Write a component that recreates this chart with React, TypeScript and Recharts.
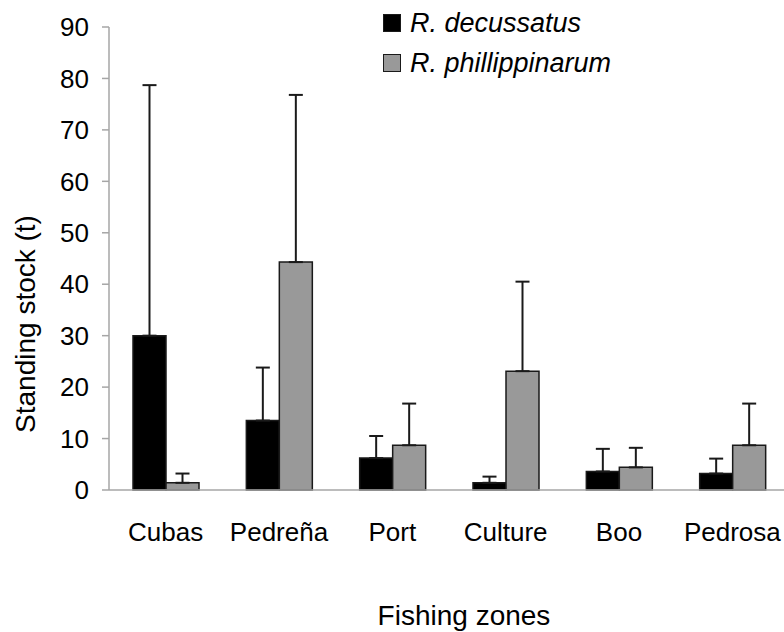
import React from "react";
import { BarChart, Bar, XAxis, YAxis, ErrorBar } from "recharts";

// Fishing zones and standing stock (t)
const zones = ["Cubas", "Pedreña", "Port", "Culture", "Boo", "Pedrosa"];
const decussatus = [30.0, 13.5, 6.2, 1.4, 3.6, 3.2];
const decussatusErr = [48.7, 10.3, 4.3, 1.2, 4.4, 2.9];
const phillippinarum = [1.4, 44.3, 8.7, 23.1, 4.4, 8.7];
const phillippinarumErr = [1.8, 32.5, 8.1, 17.4, 3.8, 8.1];
const yTicks = [0, 10, 20, 30, 40, 50, 60, 70, 80, 90];

const data = zones.map((zone, i) => ({
  zone,
  dec: decussatus[i],
  decErr: [0, decussatusErr[i]],
  phi: phillippinarum[i],
  phiErr: [0, phillippinarumErr[i]],
}));

const FONT = '"Liberation Sans", Arial, sans-serif';
const AXIS_GRAY = "#a6a6a6";
const DARK = "#1a1a1a";
const GRAY_FILL = "#999999";

const legendItems = [
  { label: "R. decussatus", fill: "#000000" },
  { label: "R. phillippinarum", fill: GRAY_FILL },
];

// legend drawn as an overlay so it doesn't eat into the plot area
const LegendBox = () => (
  <div
    style={{
      position: "absolute",
      left: 383,
      top: 3,
      fontFamily: FONT,
    }}
  >
    {legendItems.map((it) => (
      <div key={it.label} style={{ display: "flex", alignItems: "center", height: 40 }}>
        <span
          style={{
            display: "inline-block",
            width: 18,
            height: 18,
            background: it.fill,
            border: `1.5px solid ${DARK}`,
            marginRight: 9,
            boxSizing: "border-box",
          }}
        />
        <span style={{ fontSize: 27, fontStyle: "italic", color: "#000" }}>{it.label}</span>
      </div>
    ))}
  </div>
);

export default function App() {
  return (
    <div
      style={{
        position: "absolute",
        left: 0,
        top: 0,
        width: 784,
        height: 632,
        overflow: "hidden",
        background: "#fff",
      }}
    >
      <BarChart
        width={800}
        height={632}
        data={data}
        margin={{ top: 27, right: 11, bottom: 42, left: 0 }}
        barGap={0}
        style={{ fontFamily: FONT }}
      >
        <XAxis
          dataKey="zone"
          height={100}
          tickLine={false}
          tickSize={0}
          tickMargin={33}
          axisLine={{ stroke: AXIS_GRAY, strokeWidth: 1.5 }}
          tick={{ fill: "#000", fontSize: 26, fontFamily: FONT }}
          interval={0}
          label={{
            content: () => (
              <text x={464} y={625} textAnchor="middle" fontSize={28} fontFamily={FONT} fill="#000">
                Fishing zones
              </text>
            ),
          }}
        />
        <YAxis
          width={109}
          domain={[0, 90]}
          ticks={yTicks}
          interval={0}
          tickSize={7}
          tickMargin={13}
          axisLine={{ stroke: AXIS_GRAY, strokeWidth: 1.5 }}
          tickLine={{ stroke: AXIS_GRAY, strokeWidth: 1.5 }}
          tick={{ fill: "#000", fontSize: 26, fontFamily: FONT }}
          label={{
            content: () => (
              <text
                x={25}
                y={324}
                transform="rotate(-90, 25, 324)"
                textAnchor="middle"
                dominantBaseline="central"
                fontSize={28}
                fontFamily={FONT}
                fill="#000"
              >
                Standing stock (t)
              </text>
            ),
          }}
        />
        <Bar
          dataKey="dec"
          name="R. decussatus"
          fill="#000000"
          stroke={DARK}
          strokeWidth={1.5}
          barSize={33}
          isAnimationActive={false}
        >
          <ErrorBar dataKey="decErr" direction="y" width={7} stroke={DARK} strokeWidth={2} />
        </Bar>
        <Bar
          dataKey="phi"
          name="R. phillippinarum"
          fill={GRAY_FILL}
          stroke={DARK}
          strokeWidth={1.5}
          barSize={33}
          isAnimationActive={false}
        >
          <ErrorBar dataKey="phiErr" direction="y" width={7} stroke={DARK} strokeWidth={2} />
        </Bar>
      </BarChart>
      <LegendBox />
    </div>
  );
}
